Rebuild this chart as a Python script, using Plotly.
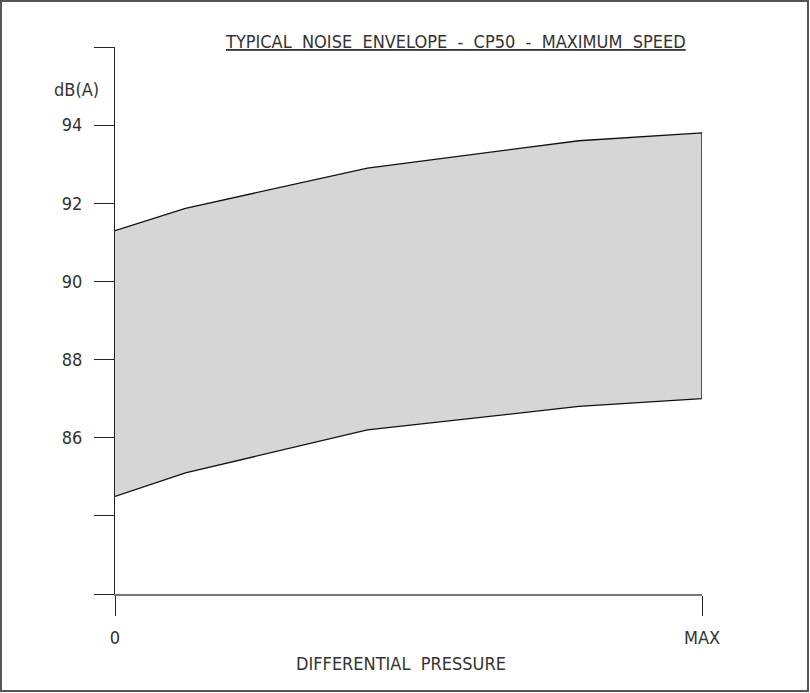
import plotly.graph_objects as go

# envelope data (x: 0 .. MAX as 0 .. 1)
pressure = [0.0, 0.12, 0.43, 0.79, 1.0]
noise_upper = [91.3, 91.87, 92.9, 93.6, 93.8]
noise_lower = [84.5, 85.1, 86.2, 86.8, 87.0]

y_ticks = [82, 84, 86, 88, 90, 92, 94, 96]
y_labels = ["", "", "86", "88", "90", "92", "94", ""]
x_ticks = [0, 1]
x_labels = ["0", "MAX"]

FONT = "Liberation Sans Narrow, DejaVu Sans Condensed, sans-serif"
INK = "#333"
FS = 18

fig = go.Figure()

# closed polygon: upper curve out, lower curve back
fig.add_trace(go.Scatter(
    x=pressure + pressure[::-1],
    y=noise_upper + noise_lower[::-1],
    mode="lines", fill="toself",
    fillcolor="#d6d6d6",
    line=dict(color="#111", width=1.3),
    hoverinfo="skip", showlegend=False,
))

fig.update_layout(
    width=810, height=693,
    margin=dict(l=115, r=108, t=47, b=99),
    paper_bgcolor="white", plot_bgcolor="white",
    font=dict(family=FONT, size=FS, color=INK),
    showlegend=False,
    xaxis=dict(
        range=[0, 1], showgrid=False, zeroline=False,
        showline=True, linecolor="#777", linewidth=2,
        ticks="outside", ticklen=20, tickcolor="#222", tickwidth=1,
        tickvals=x_ticks, ticktext=x_labels, ticklabelstandoff=6,
        tickfont=dict(family=FONT, size=FS, color=INK),
    ),
    yaxis=dict(
        range=[82, 96], showgrid=False, zeroline=False,
        showline=True, linecolor="#222", linewidth=1,
        ticks="outside", ticklen=20, tickcolor="#222", tickwidth=1,
        tickvals=y_ticks, ticktext=y_labels, ticklabelstandoff=8,
        tickfont=dict(family=FONT, size=FS, color=INK),
    ),
)

def px_x(p):
    return (p - 115) / 587.0

def px_y(p):
    return (594 - p) / 547.0

fig.add_annotation(x=px_x(455), y=px_y(41), xref="paper", yref="paper",
                   xanchor="center", yanchor="middle",
                   text="<u>TYPICAL  NOISE  ENVELOPE  -  CP50  -  MAXIMUM  SPEED</u>",
                   showarrow=False, font=dict(family=FONT, size=FS, color=INK))
fig.add_annotation(x=px_x(76), y=px_y(89), xref="paper", yref="paper",
                   xanchor="center", yanchor="middle",
                   text="dB(A)", showarrow=False,
                   font=dict(family=FONT, size=FS, color=INK))
fig.add_annotation(x=px_x(401), y=px_y(663), xref="paper", yref="paper",
                   xanchor="center", yanchor="middle",
                   text="DIFFERENTIAL  PRESSURE", showarrow=False,
                   font=dict(family=FONT, size=FS, color=INK))

# drawing frame
fig.add_shape(type="rect", xref="paper", yref="paper",
              x0=px_x(1), x1=px_x(808), y0=px_y(691), y1=px_y(1),
              line=dict(color="#555", width=2))

fig.write_html("out.html", config={"displayModeBar": False},
               post_script="document.body.style.margin='0px';")
